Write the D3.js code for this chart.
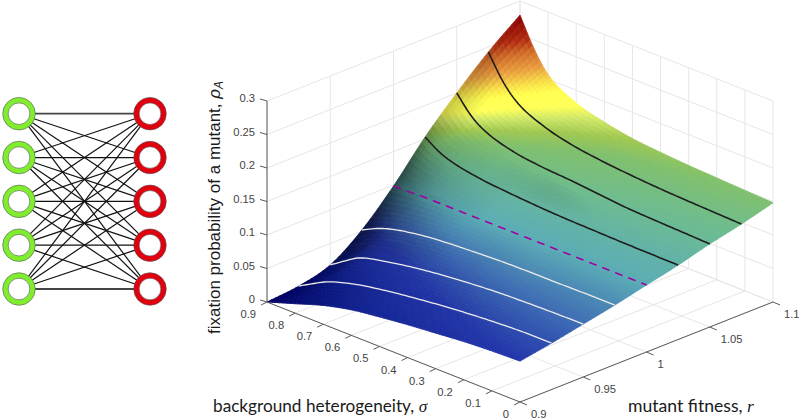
<!DOCTYPE html>
<html><head><meta charset="utf-8">
<script src="https://cdn.jsdelivr.net/npm/d3@7"></script>
<style>html,body{margin:0;padding:0;background:#fff}svg{display:block}</style></head>
<body><svg id="c" width="800" height="420"></svg>
<script>
// ---- data ----
const rTicks = [0.9, 0.95, 1, 1.05, 1.1];
const sigmaTicks = [0, 0.1, 0.2, 0.3, 0.4, 0.5, 0.6, 0.7, 0.8, 0.9];
const zTicks = [0, 0.05, 0.1, 0.15, 0.2, 0.25, 0.3];
const zTickLabels = ["0", "0.05", "0.1", "0.15", "0.2", "0.25", "0.3"];
const rKnots = [0.9, 0.925, 0.95, 0.975, 1, 1.025, 1.05, 1.075, 1.1];
const sigmaKnots = [0, 0.1, 0.2, 0.3, 0.4, 0.5, 0.6, 0.7, 0.8, 0.85, 0.9];
const rho0900 = [0.061, 0.0595, 0.057, 0.053, 0.049, 0.044, 0.038, 0.028, 0.014, 0.007, 0.000];
const rho0925 = [0.0694, 0.069, 0.067, 0.064, 0.060, 0.055, 0.049, 0.041, 0.028, 0.017, 0.005];
const rho0950 = [0.079, 0.0785, 0.0775, 0.076, 0.073, 0.069, 0.0635, 0.056, 0.045, 0.032, 0.018];
const rho0975 = [0.0888, 0.0885, 0.088, 0.0878, 0.087, 0.085, 0.0825, 0.078, 0.0695, 0.062, 0.0515];
const rho1000 = [0.100, 0.100, 0.100, 0.100, 0.100, 0.100, 0.100, 0.100, 0.100, 0.099, 0.0985];
const rho1025 = [0.111, 0.1115, 0.112, 0.113, 0.114, 0.116, 0.119, 0.123, 0.131, 0.139, 0.153];
const rho1050 = [0.124, 0.1255, 0.127, 0.129, 0.133, 0.137, 0.140, 0.146, 0.160, 0.175, 0.200];
const rho1075 = [0.135, 0.1365, 0.138, 0.140, 0.143, 0.147, 0.153, 0.164, 0.185, 0.208, 0.2425];
const rho1100 = [0.148, 0.150, 0.152, 0.154, 0.157, 0.161, 0.169, 0.181, 0.207, 0.237, 0.279];
const lineR = [0.925, 0.95, 0.975, 1.025, 1.05, 1.075];
const dashedR = 1;
const leftNodes = [0, 1, 2, 3, 4];
const rightNodes = [0, 1, 2, 3, 4];
const colorStops = [0, 0.03, 0.061, 0.08, 0.1, 0.13, 0.15, 0.16, 0.17, 0.178, 0.19, 0.2, 0.215, 0.235, 0.25, 0.28];
const colorRange = ["#000070","#0a1a90","#2236ac","#3f70b5","#5aacb5","#6cbb90","#80c06c","#a0c850","#d0e868","#ffff58","#ffff50","#f8e048","#eaa040","#d06a28","#b02a10","#900000"];

const svg = d3.select("#c");
const rows = [rho0900, rho0925, rho0950, rho0975, rho1000, rho1025, rho1050, rho1075, rho1100];

// ---- oblique projection built from linear scales ----
const ox = 520, oy = 402;
const rX = d3.scaleLinear([0.9, 1.1], [0, 253]);
const rY = d3.scaleLinear([0.9, 1.1], [0, -100]);
const sX = d3.scaleLinear([0, 0.9], [0, -253]);
const sY = d3.scaleLinear([0, 0.9], [0, -100]);
const zY = d3.scaleLinear([0, 0.3], [0, -201]);
const px = (r, s) => ox + rX(r) + sX(s);
const py = (r, s, z) => oy + rY(r) + sY(s) + zY(z);
const color = d3.scaleLinear().domain(colorStops).range(colorRange);
const rMin = 0.9, rMax = 1.1, sMin = 0, sMax = 0.9, zMax = 0.3;

// ---- grid (walls and floor) ----
const grid = svg.append("g").attr("stroke", "#e6e6e6").attr("stroke-width", 1).attr("fill", "none");
const seg = (a, b) => grid.append("line").attr("x1", a[0]).attr("y1", a[1]).attr("x2", b[0]).attr("y2", b[1]);
rTicks.forEach(r => {
  seg([px(r, sMin), py(r, sMin, 0)], [px(r, sMax), py(r, sMax, 0)]);
  seg([px(r, sMax), py(r, sMax, 0)], [px(r, sMax), py(r, sMax, zMax)]);
});
sigmaTicks.forEach(s => {
  seg([px(rMin, s), py(rMin, s, 0)], [px(rMax, s), py(rMax, s, 0)]);
  seg([px(rMax, s), py(rMax, s, 0)], [px(rMax, s), py(rMax, s, zMax)]);
});
zTicks.forEach(z => {
  seg([px(rMin, sMax), py(rMin, sMax, z)], [px(rMax, sMax), py(rMax, sMax, z)]);
  seg([px(rMax, sMax), py(rMax, sMax, z)], [px(rMax, sMin), py(rMax, sMin, z)]);
});

// ---- smooth mesh between the read values ----
function hermite(xs, ys, x) {
  let i = Math.min(xs.length - 2, Math.max(0, d3.bisectRight(xs, x) - 1));
  const sl = k => (ys[k + 1] - ys[k]) / (xs[k + 1] - xs[k]);
  const tan = k => {
    if (k <= 0) return sl(0);
    if (k >= xs.length - 1) return sl(xs.length - 2);
    const a = sl(k - 1), b = sl(k);
    if (a * b <= 0) return 0;
    const m = (a + b) / 2;
    return Math.sign(m) * Math.min(Math.abs(m), 2 * Math.abs(a), 2 * Math.abs(b));
  };
  const h = xs[i + 1] - xs[i], t = (x - xs[i]) / h, t2 = t * t, t3 = t2 * t;
  return (2*t3 - 3*t2 + 1) * ys[i] + (t3 - 2*t2 + t) * h * tan(i) + (-2*t3 + 3*t2) * ys[i + 1] + (t3 - t2) * h * tan(i + 1);
}
function zAt(r, s) {
  const col = sigmaKnots.map((_, j) => hermite(rKnots, rows.map(row => row[j]), r));
  return hermite(sigmaKnots, col, s);
}
const NR = 64, NS = 100;
const rF = d3.range(NR + 1).map(i => rMin + (rMax - rMin) * i / NR);
const sF = d3.range(NS + 1).map(j => sMax * j / NS);
const Z = rF.map(r => sF.map(s => zAt(r, s)));
const depth = (r, s) => s / sMax + (r - rMin) / (rMax - rMin);

const quads = [];
for (let i = 0; i < NR; i++) for (let j = 0; j < NS; j++) {
  const pts = [[i, j], [i + 1, j], [i + 1, j + 1], [i, j + 1]].map(([a, b]) => [px(rF[a], sF[b]), py(rF[a], sF[b], Z[a][b])]);
  const zm = (Z[i][j] + Z[i + 1][j] + Z[i + 1][j + 1] + Z[i][j + 1]) / 4;
  const dr = ((Z[i + 1][j] + Z[i + 1][j + 1]) - (Z[i][j] + Z[i][j + 1])) / 2 / (rF[i + 1] - rF[i]);
  const ds = ((Z[i][j + 1] + Z[i + 1][j + 1]) - (Z[i][j] + Z[i + 1][j])) / 2 / (sF[j + 1] - sF[j]);
  const shade = Math.max(0.22, Math.min(1, 1 - 0.43 * Math.max(0, dr - 0.7) + 0.85 * Math.min(ds, 0.3)));
  const c = d3.rgb(color(zm));
  const fill = d3.rgb(c.r * shade, c.g * shade, c.b * shade).formatRgb();
  const d = depth((rF[i] + rF[i + 1]) / 2, (sF[j] + sF[j + 1]) / 2);
  quads.push({ pts, fill, d,
    x0: d3.min(pts, p => p[0]), x1: d3.max(pts, p => p[0]), y0: d3.min(pts, p => p[1]), y1: d3.max(pts, p => p[1]) });
}
quads.sort((a, b) => b.d - a.d);
svg.append("g").style("filter", "blur(0.4px)").selectAll("polygon").data(quads).join("polygon")
  .attr("points", q => q.pts.map(p => p[0].toFixed(2) + "," + p[1].toFixed(2)).join(" "))
  .attr("fill", q => q.fill).attr("stroke", q => q.fill).attr("stroke-width", 0.8);

// ---- constant-r lines; parts behind nearer surface are dropped ----
function visibleRuns(r) {
  const runs = []; let cur = [];
  sF.forEach(s => {
    const z = zAt(r, s), p = [px(r, s), py(r, s, z)], d = depth(r, s);
    const hidden = quads.some(q => q.d < d - 0.06 && p[0] >= q.x0 && p[0] <= q.x1 && p[1] >= q.y0 && p[1] <= q.y1 && d3.polygonContains(q.pts, p));
    if (hidden) { if (cur.length > 1) runs.push(cur); cur = []; } else cur.push(p);
  });
  if (cur.length > 1) runs.push(cur);
  return runs;
}
const lineGen = d3.line();
lineR.forEach(r => {
  visibleRuns(r).forEach(run => {
    svg.append("path").attr("d", lineGen(run)).attr("fill", "none")
      .attr("stroke", r < 1 ? "#ececec" : "#1e1e1e").attr("stroke-width", r < 1 ? 1.3 : 1.6);
  });
});
visibleRuns(dashedR).forEach(run => {
  svg.append("path").attr("d", lineGen(run.slice().reverse())).attr("fill", "none")
    .attr("stroke", "#a000a0").attr("stroke-width", 1.4).attr("stroke-dasharray", "8,6");
});

// ---- axes ----
const axisC = "#5a5a5a", txtC = "#444";
const ax = svg.append("g").attr("stroke", axisC).attr("stroke-width", 1).attr("fill", "none");
const aline = (x1, y1, x2, y2) => ax.append("line").attr("x1", x1).attr("y1", y1).attr("x2", x2).attr("y2", y2);
const lab = svg.append("g").attr("font-family", "Liberation Sans, Arial, sans-serif").attr("font-size", 11.2).attr("fill", txtC);
aline(px(rMin, sMax), py(rMin, sMax, 0), px(rMin, sMax), py(rMin, sMax, zMax));
aline(px(rMin, sMax), py(rMin, sMax, 0), px(rMin, sMin), py(rMin, sMin, 0));
aline(px(rMin, sMin), py(rMin, sMin, 0), px(rMax, sMin), py(rMax, sMin, 0));
zTicks.forEach((z, i) => {
  const x = px(rMin, sMax), y = py(rMin, sMax, z);
  aline(x - 7, y - 2, x, y);
  lab.append("text").attr("x", x - 12).attr("y", y - 3).attr("dy", "0.36em").attr("text-anchor", "end").text(zTickLabels[i]);
});
sigmaTicks.forEach(s => {
  const x = px(rMin, s), y = py(rMin, s, 0);
  aline(x - 6, y + 3, x, y);
  lab.append("text").attr("x", x - 11).attr("y", y + 12).attr("dy", "0.36em").attr("text-anchor", "end").text(String(s));
});
rTicks.forEach(r => {
  const x = px(r, sMin), y = py(r, sMin, 0);
  aline(x + 7, y + 3, x, y);
  lab.append("text").attr("x", x + 11).attr("y", y + 12).attr("dy", "0.36em").text(String(r));
});

// ---- axis titles ----
const t1 = svg.append("text").attr("x", 213).attr("y", 412).attr("font-family", "Lato, sans-serif").attr("font-size", 17.2).attr("fill", "#1a1a1a");
t1.append("tspan").text("background heterogeneity, ");
t1.append("tspan").attr("font-family", "Liberation Serif, serif").attr("font-style", "italic").text("σ");
const t2 = svg.append("text").attr("x", 628).attr("y", 412).attr("font-family", "Lato, sans-serif").attr("font-size", 17.6).attr("fill", "#1a1a1a");
t2.append("tspan").text("mutant fitness, ");
t2.append("tspan").attr("font-family", "Liberation Serif, serif").attr("font-style", "italic").text("r");
const t3 = svg.append("text").attr("transform", "translate(220,334) rotate(-90)").attr("font-family", "Liberation Sans, Arial, sans-serif").attr("font-size", 17).attr("fill", "#1a1a1a");
t3.append("tspan").text("fixation probability of a mutant, ");
t3.append("tspan").attr("font-style", "italic").text("ρ");
t3.append("tspan").attr("font-style", "italic").attr("font-size", 12).attr("dy", 3).text("A");

// ---- bipartite graph on the left ----
const nodeY = d3.scaleLinear([0, 4], [113.7, 289]);
const lx = 19, rx = 150;
const links = d3.cross(leftNodes, rightNodes);
const net = svg.append("g");
net.selectAll("line").data(links).join("line")
  .attr("x1", lx).attr("x2", rx).attr("y1", d => nodeY(d[0])).attr("y2", d => nodeY(d[1]))
  .attr("stroke", d => (d[0] === d[1] && (d[0] === 0 || d[0] === 4)) ? "#444" : "#111")
  .attr("stroke-width", d => (d[0] === d[1] && (d[0] === 0 || d[0] === 4)) ? 1.8 : 1.2);
[[leftNodes, lx, "#80ee2e"], [rightNodes, rx, "#e0000e"]].forEach(([ns, x, fill]) => {
  net.append("g").selectAll("circle.o").data(ns).join("circle").attr("cx", x).attr("cy", d => nodeY(d))
    .attr("r", 16.3).attr("fill", fill).attr("stroke", "#555").attr("stroke-width", 0.6);
  net.append("g").selectAll("circle.i").data(ns).join("circle").attr("cx", x).attr("cy", d => nodeY(d))
    .attr("r", 10.8).attr("fill", "#fff").attr("stroke", "#555").attr("stroke-width", 0.6);
});
</script></body></html>
